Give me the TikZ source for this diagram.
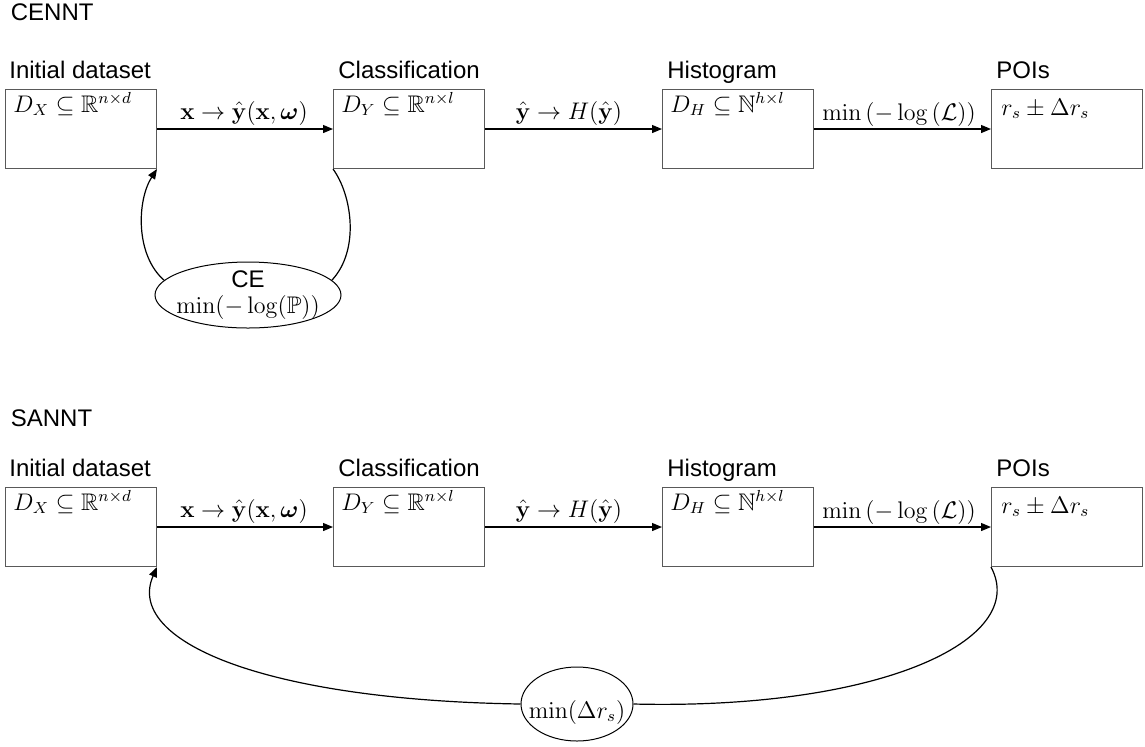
\documentclass[tikz,border=0pt]{standalone}
\usepackage{amsmath,amssymb}
\usepackage[no-math]{fontspec}
\setmainfont{Liberation Sans}
\usetikzlibrary{arrows.meta,shapes.geometric}
\begin{document}
\begin{tikzpicture}[x=0.5pt,y=-0.5pt,
  box/.style={draw=black!65, line width=0.5pt, minimum width=75.5pt, minimum height=39.5pt, anchor=north west, inner sep=0pt},
  ttl/.style={anchor=base west, inner sep=0pt, font=\fontsize{12}{14}\selectfont},
  lbl/.style={anchor=base, inner sep=0pt, font=\fontsize{12}{14}\selectfont},
  arr/.style={-{Triangle[length=5pt,width=4pt]}, line width=0.6pt},
  lnk/.style={line width=0.6pt},
  ell/.style={draw=black, ellipse, line width=0.5pt, inner sep=0pt},
]
\useasboundingbox (0,0) rectangle (1145,746);

% ---------- CENNT ----------
\node[ttl] (tc) at (10.5,20) {CENNT};
\node[box] (a1) at (5,89) {};
\node[box] (a2) at (333,89) {};
\node[box] (a3) at (662,89) {};
\node[box] (a4) at (991,89) {};
\node[ttl] (ta1) at (9,78) {Initial dataset};
\node[ttl] (ta2) at (338,78) {Classification};
\node[ttl] (ta3) at (667,78) {Histogram};
\node[ttl] (ta4) at (996,78) {POIs};
\node[ttl] (ma1) at (13,112) {$D_X\subseteq\mathbb{R}^{n\times d}$};
\node[ttl] (ma2) at (341,112) {$D_Y\subseteq\mathbb{R}^{n\times l}$};
\node[ttl] (ma3) at (670,112) {$D_H\subseteq\mathbb{N}^{h\times l}$};
\node[ttl] (ma4) at (1001,115) {$r_s\pm\Delta r_s$};
\draw[arr] (a1.east) -- (a2.west);
\draw[arr] (a2.east) -- (a3.west);
\draw[arr] (a3.east) -- (a4.west);
\node[lbl] (la1) at (244,119) {$\mathbf{x}\rightarrow\hat{\mathbf{y}}(\mathbf{x},\boldsymbol{\omega})$};
\node[lbl] (la2) at (569,119) {$\hat{\mathbf{y}}\rightarrow H(\hat{\mathbf{y}})$};
\node[lbl, font=\fontsize{12.4}{14}\selectfont] (la3) at (899,120.5) {$\min\left(-\log\left(\mathcal{L}\right)\right)$};
\node[ell, minimum width=93pt, minimum height=33pt] (ce) at (248,295) {};
\node[lbl] (ce1) at (248,287) {CE};
\node[lbl] (ce2) at (248,313) {$\min(-\log(\mathbb{P}))$};
\draw[lnk] (a2.south west) .. controls (352,195) and (360,250) .. (ce.10);
\draw[arr] (ce.170) .. controls (135,255) and (137,200) .. (a1.south east);

% ---------- SANNT ----------
\node[ttl] (ts) at (10.5,426) {SANNT};
\node[box] (b1) at (5,487) {};
\node[box] (b2) at (333,487) {};
\node[box] (b3) at (662,487) {};
\node[box] (b4) at (991,487) {};
\node[ttl] (tb1) at (9,476) {Initial dataset};
\node[ttl] (tb2) at (338,476) {Classification};
\node[ttl] (tb3) at (667,476) {Histogram};
\node[ttl] (tb4) at (996,476) {POIs};
\node[ttl] (mb1) at (13,510) {$D_X\subseteq\mathbb{R}^{n\times d}$};
\node[ttl] (mb2) at (341,510) {$D_Y\subseteq\mathbb{R}^{n\times l}$};
\node[ttl] (mb3) at (670,510) {$D_H\subseteq\mathbb{N}^{h\times l}$};
\node[ttl] (mb4) at (1001,513) {$r_s\pm\Delta r_s$};
\draw[arr] (b1.east) -- (b2.west);
\draw[arr] (b2.east) -- (b3.west);
\draw[arr] (b3.east) -- (b4.west);
\node[lbl] (lb1) at (244,517) {$\mathbf{x}\rightarrow\hat{\mathbf{y}}(\mathbf{x},\boldsymbol{\omega})$};
\node[lbl] (lb2) at (569,517) {$\hat{\mathbf{y}}\rightarrow H(\hat{\mathbf{y}})$};
\node[lbl, font=\fontsize{12.4}{14}\selectfont] (lb3) at (899,518.5) {$\min\left(-\log\left(\mathcal{L}\right)\right)$};
\node[ell, minimum width=56pt, minimum height=37pt] (cf) at (577,704) {};
\node[lbl] (cf1) at (577,718) {$\min(\Delta r_s)$};
\draw[lnk] (b4.south west) .. controls (1030,640) and (880,710) .. (cf.east);
\draw[arr] (cf.west) .. controls (260,700) and (125,640) .. (b1.south east);
\end{tikzpicture}
\end{document}
